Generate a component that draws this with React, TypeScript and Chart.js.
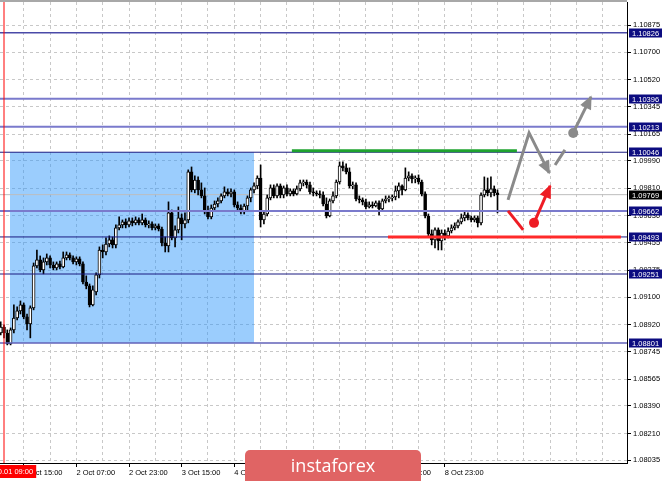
import React, { useEffect, useRef } from 'react';
import { Chart, registerables } from 'chart.js';
Chart.register(...registerables);

// ---------- DATA ----------
const firstBar = -1; // bar index of the first candle (bar 0 = 1 Oct 09:00, hourly bars)

const opens = [
  1.08866, 1.08905, 1.08866, 1.08794, 1.08886, 1.08964, 1.09010, 1.09049, 1.08971, 1.08925,
  1.09030, 1.09304, 1.09343, 1.09278, 1.09330, 1.09356, 1.09310, 1.09291, 1.09317, 1.09297,
  1.09356, 1.09376, 1.09356, 1.09330, 1.09350, 1.09317, 1.09199, 1.09173, 1.09049, 1.09134,
  1.09245, 1.09408, 1.09395, 1.09447, 1.09474, 1.09441, 1.09552, 1.09572, 1.09591, 1.09572,
  1.09598, 1.09585, 1.09604, 1.09585, 1.09604, 1.09572, 1.09578, 1.09552, 1.09565, 1.09545,
  1.09454, 1.09434, 1.09650, 1.09487, 1.09539, 1.09617, 1.09578, 1.09604, 1.09918, 1.09800,
  1.09865, 1.09800, 1.09761, 1.09656, 1.09624, 1.09682, 1.09708, 1.09728, 1.09761, 1.09787,
  1.09774, 1.09787, 1.09702, 1.09682, 1.09656, 1.09695, 1.09748, 1.09800, 1.09826, 1.09878,
  1.09604, 1.09643, 1.09748, 1.09813, 1.09761, 1.09826, 1.09767, 1.09813, 1.09774, 1.09794,
  1.09774, 1.09807, 1.09846, 1.09852, 1.09833, 1.09787, 1.09781, 1.09774, 1.09767, 1.09708,
  1.09630, 1.09728, 1.09761, 1.09852, 1.09957, 1.09944, 1.09918, 1.09826, 1.09833, 1.09741,
  1.09735, 1.09722, 1.09689, 1.09702, 1.09695, 1.09715, 1.09676, 1.09728, 1.09741, 1.09748,
  1.09754, 1.09794, 1.09826, 1.09800, 1.09878, 1.09892, 1.09872, 1.09878, 1.09852, 1.09774,
  1.09630, 1.09513, 1.09474, 1.09539, 1.09467, 1.09519, 1.09500, 1.09532, 1.09552, 1.09565,
  1.09591, 1.09617, 1.09637, 1.09617, 1.09604, 1.09617, 1.09585, 1.09767, 1.09800, 1.09781,
  1.09807, 1.09781,
];
const highs = [
  1.08938, 1.08919, 1.08886, 1.08899, 1.09049, 1.09036, 1.09075, 1.09062, 1.08990, 1.09043,
  1.09323, 1.09408, 1.09369, 1.09356, 1.09382, 1.09369, 1.09330, 1.09330, 1.09336, 1.09395,
  1.09395, 1.09389, 1.09369, 1.09363, 1.09363, 1.09330, 1.09239, 1.09186, 1.09173, 1.09258,
  1.09428, 1.09441, 1.09487, 1.09500, 1.09493, 1.09572, 1.09624, 1.09604, 1.09611, 1.09617,
  1.09617, 1.09624, 1.09617, 1.09643, 1.09617, 1.09598, 1.09591, 1.09578, 1.09578, 1.09558,
  1.09493, 1.09722, 1.09669, 1.09565, 1.09689, 1.09643, 1.09650, 1.09931, 1.09950, 1.09892,
  1.09885, 1.09846, 1.09813, 1.09695, 1.09702, 1.09728, 1.09748, 1.09774, 1.09820, 1.09807,
  1.09807, 1.09800, 1.09722, 1.09702, 1.09708, 1.09761, 1.09813, 1.09846, 1.09892, 1.09963,
  1.09656, 1.09767, 1.09833, 1.09833, 1.09839, 1.09839, 1.09826, 1.09833, 1.09807, 1.09807,
  1.09826, 1.09865, 1.09865, 1.09865, 1.09852, 1.09813, 1.09794, 1.09794, 1.09787, 1.09748,
  1.09741, 1.09787, 1.09865, 1.09983, 1.09983, 1.09970, 1.09944, 1.09852, 1.09846, 1.09761,
  1.09748, 1.09741, 1.09722, 1.09722, 1.09728, 1.09728, 1.09741, 1.09761, 1.09761, 1.09767,
  1.09826, 1.09846, 1.09833, 1.09944, 1.09918, 1.09905, 1.09892, 1.09898, 1.09865, 1.09787,
  1.09643, 1.09539, 1.09552, 1.09552, 1.09539, 1.09539, 1.09552, 1.09572, 1.09585, 1.09604,
  1.09643, 1.09656, 1.09650, 1.09630, 1.09630, 1.09630, 1.09781, 1.09885, 1.09878, 1.09885,
  1.09826, 1.09800,
];
const lows = [
  1.08853, 1.08834, 1.08788, 1.08788, 1.08866, 1.08951, 1.08990, 1.08958, 1.08886, 1.08834,
  1.09017, 1.09291, 1.09265, 1.09252, 1.09310, 1.09291, 1.09278, 1.09278, 1.09284, 1.09291,
  1.09343, 1.09343, 1.09317, 1.09310, 1.09304, 1.09186, 1.09154, 1.09036, 1.09043, 1.09114,
  1.09225, 1.09356, 1.09376, 1.09428, 1.09421, 1.09421, 1.09539, 1.09552, 1.09552, 1.09558,
  1.09565, 1.09572, 1.09572, 1.09572, 1.09558, 1.09552, 1.09539, 1.09539, 1.09532, 1.09434,
  1.09395, 1.09395, 1.09474, 1.09428, 1.09519, 1.09474, 1.09552, 1.09585, 1.09787, 1.09781,
  1.09767, 1.09748, 1.09643, 1.09611, 1.09611, 1.09663, 1.09689, 1.09715, 1.09748, 1.09761,
  1.09754, 1.09689, 1.09663, 1.09643, 1.09643, 1.09669, 1.09722, 1.09781, 1.09807, 1.09558,
  1.09578, 1.09630, 1.09735, 1.09748, 1.09748, 1.09748, 1.09748, 1.09761, 1.09761, 1.09761,
  1.09767, 1.09794, 1.09826, 1.09813, 1.09774, 1.09761, 1.09761, 1.09748, 1.09695, 1.09617,
  1.09624, 1.09715, 1.09748, 1.09839, 1.09924, 1.09905, 1.09813, 1.09807, 1.09728, 1.09715,
  1.09702, 1.09676, 1.09682, 1.09682, 1.09689, 1.09637, 1.09663, 1.09715, 1.09722, 1.09728,
  1.09735, 1.09748, 1.09767, 1.09794, 1.09859, 1.09846, 1.09846, 1.09839, 1.09761, 1.09617,
  1.09500, 1.09441, 1.09421, 1.09408, 1.09408, 1.09474, 1.09487, 1.09519, 1.09539, 1.09552,
  1.09578, 1.09598, 1.09604, 1.09591, 1.09591, 1.09558, 1.09572, 1.09754, 1.09761, 1.09754,
  1.09761, 1.09650,
];
const closes = [
  1.08905, 1.08866, 1.08794, 1.08886, 1.08964, 1.09010, 1.09049, 1.08971, 1.08925, 1.09030,
  1.09304, 1.09343, 1.09278, 1.09330, 1.09356, 1.09310, 1.09291, 1.09317, 1.09297, 1.09356,
  1.09376, 1.09356, 1.09330, 1.09350, 1.09317, 1.09199, 1.09173, 1.09049, 1.09147, 1.09245,
  1.09408, 1.09395, 1.09447, 1.09474, 1.09441, 1.09552, 1.09572, 1.09591, 1.09572, 1.09598,
  1.09585, 1.09604, 1.09585, 1.09604, 1.09572, 1.09578, 1.09552, 1.09565, 1.09545, 1.09454,
  1.09434, 1.09650, 1.09487, 1.09539, 1.09617, 1.09578, 1.09604, 1.09918, 1.09800, 1.09865,
  1.09800, 1.09761, 1.09656, 1.09624, 1.09682, 1.09708, 1.09728, 1.09761, 1.09787, 1.09774,
  1.09787, 1.09702, 1.09682, 1.09656, 1.09695, 1.09748, 1.09800, 1.09826, 1.09878, 1.09604,
  1.09643, 1.09748, 1.09813, 1.09761, 1.09826, 1.09767, 1.09813, 1.09774, 1.09794, 1.09774,
  1.09807, 1.09846, 1.09852, 1.09833, 1.09787, 1.09781, 1.09774, 1.09767, 1.09708, 1.09630,
  1.09728, 1.09761, 1.09852, 1.09957, 1.09944, 1.09918, 1.09826, 1.09833, 1.09741, 1.09735,
  1.09722, 1.09689, 1.09702, 1.09695, 1.09715, 1.09676, 1.09728, 1.09741, 1.09748, 1.09754,
  1.09794, 1.09826, 1.09800, 1.09878, 1.09892, 1.09872, 1.09878, 1.09852, 1.09774, 1.09630,
  1.09513, 1.09474, 1.09539, 1.09467, 1.09519, 1.09500, 1.09532, 1.09552, 1.09565, 1.09591,
  1.09617, 1.09637, 1.09617, 1.09604, 1.09617, 1.09585, 1.09767, 1.09800, 1.09781, 1.09807,
  1.09781, 1.09769,
];

const yTickLabels = [
  '1.08035', '1.08210', '1.08390', '1.08565', '1.08745', '1.08920', '1.09100', '1.09275', '1.09455',
  '1.09630', '1.09810', '1.09990', '1.10165', '1.10345', '1.10520', '1.10700', '1.10875',
];
const xGridBars = [6, 14, 22, 30, 38, 46, 54, 62, 70, 78, 86, 94, 102, 110, 118, 126, 134, 142, 150, 158, 166, 174, 182];
const xLabelBars = [6, 22, 38, 54, 70, 86, 102, 118, 134];
const xLabels = ['1 Oct 15:00', '2 Oct 07:00', '2 Oct 23:00', '3 Oct 15:00', '4 Oct 07:00', '4 Oct 23:00', '7 Oct 15:00', '8 Oct 07:00', '8 Oct 23:00'];

const levels = [1.10826, 1.10396, 1.10213, 1.10046, 1.09662, 1.09493, 1.09251, 1.08801];
const lastPrice = 1.09769;

const zoneBars = [1.8, 76.0];
const zoneTop = 1.10046;
const zoneBottom = 1.08801;

const greenLineBars = [87.5, 155.9];
const greenLinePrice = 1.10056;
const redLineBars = [116.7, 187.5];
const redLinePrice = 1.09493;

const grayPathBars = [153.2, 159.6, 165.7];
const grayPathPrices = [1.09735, 1.10172, 1.09911];
const graySegBars = [167.5, 170.5];
const graySegPrices = [1.09963, 1.10061];
const grayArrowBars = [173.0, 178.4];
const grayArrowPrices = [1.10172, 1.10407];
const redSegBars = [153.2, 157.8];
const redSegPrices = [1.09663, 1.09539];
const redArrowBars = [161.1, 166.0];
const redArrowPrices = [1.09585, 1.09826];

const markerBar = 0;
const markerLabel = '2019.10.01 09:00';

// ---------- STYLE ----------
const X_MIN = -1.216;
const X_MAX = 189.36;
const Y_MIN = 1.08017;
const Y_MAX = 1.11027;
const levelColors = ['#4a4aa8', '#7a7acc', '#7a7acc', '#1a1a80', '#7a7acc', '#1a1a80', '#1a1a80', '#6262b8'];
const levelWidths = [1.5, 2, 2, 1, 2, 1, 1, 1.5];
const FONT = 'Liberation Sans';

const pts = (xs: number[], ys: number[]) => xs.map((x, k) => ({ x, y: ys[k] }));

const overlayPlugin = {
  id: 'overlay',
  afterDatasetsDraw(chart: any) {
    const ctx = chart.ctx;
    chart.data.datasets.forEach((ds: any, i: number) => {
      if (!ds.arrowHead) return;
      const p = chart.getDatasetMeta(i).data;
      const a = p[p.length - 2];
      const b = p[p.length - 1];
      const ang = Math.atan2(b.y - a.y, b.x - a.x);
      const L = 12;
      const W = 6;
      const bx = b.x - L * Math.cos(ang);
      const by = b.y - L * Math.sin(ang);
      ctx.save();
      ctx.fillStyle = ds.borderColor;
      ctx.beginPath();
      ctx.moveTo(b.x + 1.5 * Math.cos(ang), b.y + 1.5 * Math.sin(ang));
      ctx.lineTo(bx + W * Math.sin(ang), by - W * Math.cos(ang));
      ctx.lineTo(bx - W * Math.sin(ang), by + W * Math.cos(ang));
      ctx.closePath();
      ctx.fill();
      ctx.restore();
    });
  },
  afterDraw(chart: any) {
    const ctx = chart.ctx;
    const area = chart.chartArea;
    const ys = chart.scales.y;
    const xs = chart.scales.x;
    ctx.save();
    // top frame line
    ctx.fillStyle = '#a8a8a8';
    ctx.fillRect(area.left, area.top - 2, area.right - area.left, 2);
    // level price boxes
    ctx.font = `7.5px "${FONT}"`;
    ctx.textBaseline = 'middle';
    ctx.textAlign = 'left';
    const box = (v: number, bg: string) => {
      const y = Math.round(ys.getPixelForValue(v));
      ctx.fillStyle = bg;
      ctx.fillRect(area.right + 2, y - 4.5, 33, 9);
      ctx.fillStyle = '#ffffff';
      ctx.fillText(v.toFixed(5), area.right + 5, y + 0.5);
    };
    levels.forEach((lv) => box(lv, '#0c0c80'));
    box(lastPrice, '#000000');
    // red time marker label
    const mx = xs.getPixelForValue(markerBar);
    const w = ctx.measureText(markerLabel).width + 6;
    ctx.fillStyle = '#ff0000';
    ctx.fillRect(mx - w / 2, area.bottom + 2, w, 13);
    ctx.fillStyle = '#ffffff';
    ctx.textAlign = 'center';
    ctx.fillText(markerLabel, mx, area.bottom + 9);
    // watermark
    ctx.fillStyle = '#e06464';
    ctx.beginPath();
    (ctx as any).roundRect(245, 450, 176, 40, 5);
    ctx.fill();
    ctx.fillStyle = '#ffffff';
    ctx.font = '18px "Open Sans"';
    ctx.textAlign = 'center';
    ctx.textBaseline = 'alphabetic';
    ctx.fillText('instaforex', 333, 472);
    ctx.restore();
  },
};

export default function App() {
  const ref = useRef<HTMLCanvasElement>(null);
  useEffect(() => {
    const lineDs = (data: any[], color: string, width: number, order: number, extra: any = {}) => ({
      type: 'line',
      data,
      borderColor: color,
      backgroundColor: color,
      borderWidth: width,
      pointRadius: 0,
      tension: 0,
      fill: false,
      order,
      ...extra,
    });
    const datasets: any[] = [
      lineDs(pts(zoneBars, [zoneTop, zoneTop]), 'rgba(0,0,0,0)', 0, 30, {
        fill: { value: zoneBottom },
        backgroundColor: 'rgba(45,150,250,0.48)',
      }),
      lineDs(pts([X_MIN, X_MAX], [lastPrice, lastPrice]), '#bdbdbd', 1, 25),
      {
        type: 'bar',
        data: highs.map((h, k) => ({ x: firstBar + k, y: [lows[k], h] })),
        backgroundColor: '#000000',
        borderWidth: 0,
        barThickness: 1,
        grouped: false,
        order: 20,
      },
      {
        type: 'bar',
        data: opens.map((o, k) => ({ x: firstBar + k, y: [o, closes[k]] })),
        backgroundColor: opens.map((o, k) => (closes[k] >= o ? '#ffffff' : '#000000')),
        borderColor: '#000000',
        borderWidth: 1,
        borderSkipped: false,
        barThickness: 3,
        minBarLength: 1,
        grouped: false,
        order: 19,
      },
      ...levels.map((lv, k) => lineDs(pts([X_MIN, X_MAX], [lv, lv]), levelColors[k], levelWidths[k], 15)),
      lineDs(pts(greenLineBars, [greenLinePrice, greenLinePrice]), '#1fa32f', 3, 10),
      lineDs(pts(redLineBars, [redLinePrice, redLinePrice]), '#ff2a2a', 3, 10),
      lineDs(pts([markerBar, markerBar], [Y_MIN, Y_MAX]), '#ff0000', 1, 9),
      lineDs(pts(grayPathBars, grayPathPrices), '#8a8a8a', 3, 5, { arrowHead: true }),
      lineDs(pts(graySegBars, graySegPrices), '#8a8a8a', 3, 5),
      lineDs(pts(grayArrowBars, grayArrowPrices), '#8a8a8a', 3, 5, {
        arrowHead: true,
        pointRadius: [5, 0],
        pointBorderWidth: 0,
        pointBackgroundColor: '#8a8a8a',
      }),
      lineDs(pts(redSegBars, redSegPrices), '#ee1c24', 3, 4),
      lineDs(pts(redArrowBars, redArrowPrices), '#ee1c24', 3, 4, {
        arrowHead: true,
        pointRadius: [5, 0],
        pointBorderWidth: 0,
        pointBackgroundColor: '#ee1c24',
      }),
    ];

    const chart = new Chart(ref.current as HTMLCanvasElement, {
      type: 'bar',
      data: { datasets },
      options: {
        responsive: false,
        animation: false,
        events: [],
        layout: { autoPadding: false, padding: { top: 2, left: 0, right: 0, bottom: 0 } },
        plugins: { legend: { display: false }, tooltip: { enabled: false } },
        scales: {
          x: {
            type: 'linear',
            min: X_MIN,
            max: X_MAX,
            offset: false,
            afterBuildTicks: (s: any) => {
              s.ticks = xGridBars.map((v) => ({ value: v }));
            },
            afterFit: (s: any) => {
              s.height = 18;
              s.paddingLeft = 0;
              s.paddingRight = 0;
            },
            grid: {
              color: '#c8c8c8',
              lineWidth: 1,
              offset: false,
              drawTicks: true,
              tickLength: 4,
              tickColor: (c: any) => (c.tick && xLabelBars.includes(c.tick.value) ? '#000000' : 'rgba(0,0,0,0)'),
            },
            border: { display: true, color: '#000000', width: 1, dash: [3, 3] },
            ticks: {
              autoSkip: false,
              maxRotation: 0,
              minRotation: 0,
              align: 'start',
              padding: 1,
              color: '#000000',
              font: { family: FONT, size: 7.5 },
              callback: (v: any) => {
                const k = xLabelBars.indexOf(Number(v));
                return k >= 0 ? xLabels[k] : '';
              },
            },
          },
          y: {
            type: 'linear',
            position: 'right',
            min: Y_MIN,
            max: Y_MAX,
            afterBuildTicks: (s: any) => {
              s.ticks = yTickLabels.map((t) => ({ value: parseFloat(t) }));
            },
            afterFit: (s: any) => {
              s.width = 38;
              s.paddingTop = 0;
              s.paddingBottom = 0;
            },
            grid: { color: '#c8c8c8', lineWidth: 1, drawTicks: true, tickLength: 4, tickColor: '#000000' },
            border: { display: true, color: '#000000', width: 1, dash: [3, 3] },
            ticks: {
              autoSkip: false,
              padding: 2,
              color: '#000000',
              font: { family: FONT, size: 7.5 },
              callback: (_v: any, i: number) => yTickLabels[i],
            },
          },
        },
      } as any,
      plugins: [overlayPlugin],
    } as any);
    return () => chart.destroy();
  }, []);

  return (
    <div style={{ position: 'fixed', left: 0, top: 0, width: 665, height: 481, background: '#ffffff' }}>
      <canvas ref={ref} width={665} height={481} style={{ display: 'block', width: 665, height: 481 }} />
    </div>
  );
}
